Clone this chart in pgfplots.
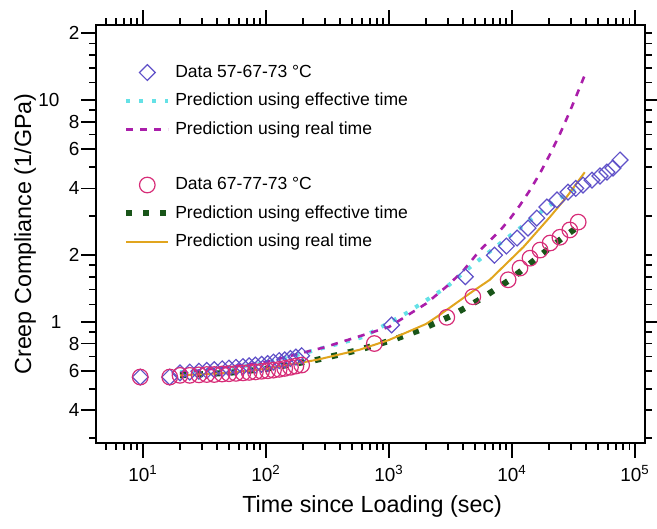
\documentclass[border=0pt]{standalone}
\usepackage{fontspec}
\setmainfont{Liberation Sans}
\usepackage{pgfplots}
\pgfplotsset{compat=1.18}
\definecolor{dBlue}{RGB}{95,80,200}
\definecolor{eCyan}{RGB}{100,225,230}
\definecolor{rMag}{RGB}{170,30,170}
\definecolor{cPink}{RGB}{215,45,120}
\definecolor{gGreen}{RGB}{25,85,25}
\definecolor{oOrange}{RGB}{225,165,30}
\begin{document}
\begin{tikzpicture}
\useasboundingbox (-48bp,-43bp) rectangle (280.5bp,221.5bp);
\begin{axis}[
  xmode=log, ymode=log,
  scale only axis, width=274.5bp, height=209bp,
  xmin=4.15, xmax=1.205e5, ymin=0.285, ymax=21.8,
  hide x axis, axis y line*=right,
  tick align=outside,
  ytick={1,10}, yticklabels={},
  minor ytick={0.3,0.4,0.5,0.6,0.7,0.8,0.9,1.2,1.4,1.6,1.8,2,3,4,5,6,7,8,9,12,14,16,18,20},
  major tick length=6.5bp, minor tick length=3.5bp,
  axis line style={line width=0.9bp},
  tick style={black, line width=0.9bp},
]
\end{axis}
\begin{axis}[
  xmode=log, ymode=log,
  scale only axis, width=274.5bp, height=209bp,
  xmin=4.15, xmax=1.205e5, ymin=0.285, ymax=21.8,
  tick align=outside,
  ytick pos=left,
  xtick={10,100,1000,10000,100000},
  xticklabels={10\textsuperscript{1},10\textsuperscript{2},10\textsuperscript{3},10\textsuperscript{4},10\textsuperscript{5}},
  minor xtick={5,6,7,8,9,20,30,40,50,60,70,80,90,200,300,400,500,600,700,800,900,2000,3000,4000,5000,6000,7000,8000,9000,20000,30000,40000,50000,60000,70000,80000,90000},
  ytick={0.4,0.6,0.8,1,2,4,6,8,10,20},
  yticklabels={4,6,8,1\kern9bp,2,4,6,8,10\kern10bp,2},
  minor ytick={0.3,0.5,0.7,0.9,1.2,1.4,1.6,1.8,3,5,7,9,12,14,16,18},
  major tick length=7.5bp, minor tick length=3.5bp,
  axis line style={line width=0.9bp},
  tick style={black, line width=0.9bp},
  tick label style={font=\fontsize{9.5}{11}\selectfont},
  yticklabel style={inner xsep=0.6bp},
  xlabel={Time since Loading (sec)},
  ylabel={Creep Compliance (1/GPa)},
  label style={font=\fontsize{11.7}{14}\selectfont},
  xlabel style={at={(axis description cs:0.503,-0.151)}, anchor=center},
  ylabel style={at={(axis description cs:-0.129,0.5)}, anchor=center},
  legend style={at={(axis description cs:0.049,0.915)}, anchor=north west, draw=none, fill=none,
    font=\fontsize{8.8}{10}\selectfont, row sep=2.5bp, inner sep=0pt},
  legend cell align=left,
  legend image code/.code={\draw[mark repeat=2,mark phase=2,#1] plot coordinates {(0bp,0bp) (10.5bp,0bp) (21bp,0bp)};},
]
\addplot[only marks, mark=square, mark size=2.8bp, mark options={rotate=45, line width=0.6bp}, color=dBlue] coordinates {
(9.5,0.565) (16.5,0.565) (20,0.59) (24,0.595) (28.5,0.60) (33,0.605) (38,0.61) (44,0.615) (50,0.62) (57,0.625)
(65,0.63) (73,0.635) (82,0.64) (92,0.645) (103,0.65) (115,0.66) (128,0.67) (142,0.675) (158,0.685) (175,0.695) (195,0.705)
(1050,0.97) (4170,1.60) (7200,2.0) (9000,2.2) (11000,2.39) (13500,2.65) (15900,2.94) (19200,3.3) (23200,3.55)
(28500,3.85) (33000,4.0) (37800,4.14) (44700,4.36) (51900,4.55) (59100,4.74) (66100,4.94) (75500,5.37)
};
\addlegendentry{Data 57-67-73 °C}
\addplot[eCyan, line width=2bp, dash pattern=on 2bp off 4.5bp] coordinates {
(20,0.595) (50,0.62) (100,0.655) (215,0.73) (614,0.856) (1400,1.10) (2950,1.44) (4800,1.81) (9100,2.39) (20400,3.37) (35600,4.14)
};
\addlegendentry{Prediction using effective time}
\addplot[rMag, line width=1.3bp, dash pattern=on 3.5bp off 3.5bp] coordinates {
(20,0.59) (100,0.66) (300,0.77) (1000,0.95) (2000,1.21) (3000,1.46) (4000,1.70) (5500,2.11) (6620,2.33) (7980,2.58)
(9630,2.92) (11600,3.36) (14000,3.93) (16900,4.69) (20400,5.71) (24600,7.07) (29600,8.92) (35700,11.47) (39300,13.1)
};
\addlegendentry{Prediction using real time}
\addlegendimage{empty legend}
\addlegendentry{\rule[-2bp]{0pt}{7.5bp}}
\addplot[only marks, mark=o, mark size=3.9bp, mark options={line width=0.6bp}, color=cPink] coordinates {
(9.5,0.565) (16.5,0.565) (20,0.575) (24,0.575) (28.5,0.578) (33,0.58) (38,0.58) (44,0.583) (50,0.585) (57,0.587)
(65,0.59) (73,0.593) (82,0.596) (92,0.60) (103,0.603) (115,0.607) (128,0.612) (142,0.618) (158,0.625) (175,0.633) (195,0.64)
(760,0.80) (2950,1.05) (4800,1.30) (9300,1.55) (11600,1.75) (14000,1.94) (16900,2.11) (20400,2.27) (24500,2.41)
(29500,2.60) (34500,2.82)
};
\addlegendentry{Data 67-77-73 °C}
\addplot[gGreen, line width=3bp, dash pattern=on 3bp off 5.5bp] coordinates {
(20,0.575) (50,0.59) (100,0.615) (257,0.675) (575,0.75) (1070,0.83) (1780,0.92) (3250,1.07) (5700,1.28) (9600,1.55)
(15900,1.94) (25600,2.39) (37800,2.79)
};
\addlegendentry{Prediction using effective time}
\addplot[oOrange, line width=1bp] coordinates {
(20,0.575) (50,0.59) (100,0.615) (257,0.675) (575,0.75) (1000,0.83) (2000,0.98) (2600,1.08) (4570,1.35) (6600,1.55)
(12400,2.18) (20400,2.98) (27900,3.67) (39000,4.73)
};
\addlegendentry{Prediction using real time}
\end{axis}
\end{tikzpicture}
\end{document}
